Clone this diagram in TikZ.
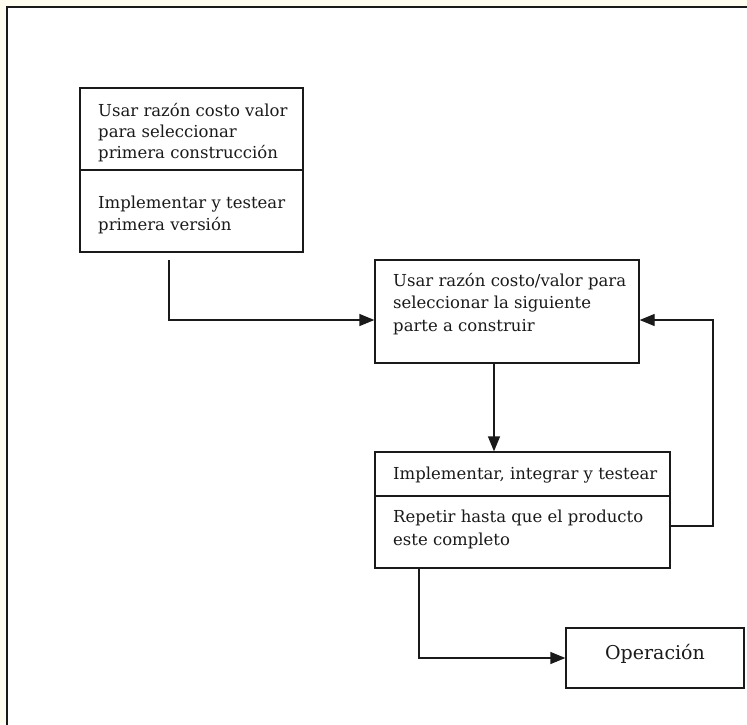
\documentclass[tikz,border=0pt]{standalone}
\usepackage{fontspec}
\setmainfont{DejaVu Serif}
\usetikzlibrary{arrows.meta}
\definecolor{paper}{HTML}{FFFDF0}
\definecolor{ink}{HTML}{1A1A1A}
\begin{document}
\begin{tikzpicture}[x=1pt,y=-1pt,
  box/.style={draw=ink,line width=1.3pt,rectangle,inner sep=0pt},
  txt/.style={anchor=base west,inner sep=0pt,font=\fontsize{16.5}{22}\selectfont,text=ink},
  link/.style={draw=ink,line width=1.3pt},
  arr/.style={link,-{Triangle[length=15pt,width=12pt]}}]
  % page and outer frame
  \fill[paper] (0,0) rectangle (747,724);
  \useasboundingbox (0,0) rectangle (747,724);
  \fill[white] (7,7) rectangle (760,740);
  \draw[ink,line width=1.6pt] (7,740) -- (7,7) -- (760,7);

  % first build box
  \node[box,minimum width=223pt,minimum height=164pt] (b1) at (191.5,170) {};
  \draw[ink,line width=1.3pt] (b1.west |- 0,170) -- (b1.east |- 0,170);
  \node[txt] (t1a) at (98,116) {Usar razón costo valor};
  \node[txt] (t1b) at (98,137) {para seleccionar};
  \node[txt] (t1c) at (98,158) {primera construcción};
  \node[txt] (t1d) at (98,208) {Implementar y testear};
  \node[txt] (t1e) at (98,230) {primera versión};

  % selection box
  \node[box,minimum width=264pt,minimum height=103pt] (b2) at (507,311.5) {};
  \node[txt] (t2a) at (393,286) {Usar razón costo/valor para};
  \node[txt] (t2b) at (393,308) {seleccionar la siguiente};
  \node[txt] (t2c) at (393,331) {parte a construir};

  % implement / repeat box
  \node[box,minimum width=295pt,minimum height=116pt] (b3) at (522.5,510) {};
  \draw[ink,line width=1.3pt] (b3.west |- 0,496) -- (b3.east |- 0,496);
  \node[txt] (t3a) at (393,479) {Implementar, integrar y testear};
  \node[txt] (t3b) at (393,522) {Repetir hasta que el producto};
  \node[txt] (t3c) at (393,545) {este completo};

  % operation box
  \node[box,minimum width=178pt,minimum height=60pt,text height=7pt,text depth=5pt,
        font=\fontsize{19}{24}\selectfont,text=ink] (op) at (655,658) {Operación};

  % connectors
  \coordinate (s1) at (169,260);
  \coordinate (j1) at (169,320);
  \draw[arr] (s1) -- (j1) -- (j1 -| b2.west);

  \coordinate (dx) at (494,0);
  \draw[arr] (b2.south -| dx) -- (b3.north -| dx);

  \coordinate (r1) at (713,526);
  \coordinate (r2) at (713,320);
  \draw[arr] (b3.east |- r1) -- (r1) -- (r2) -- (b2.east |- r2);

  \coordinate (q) at (419,658);
  \draw[arr] (b3.south -| q) -- (q) -- (op.west);
\end{tikzpicture}
\end{document}
